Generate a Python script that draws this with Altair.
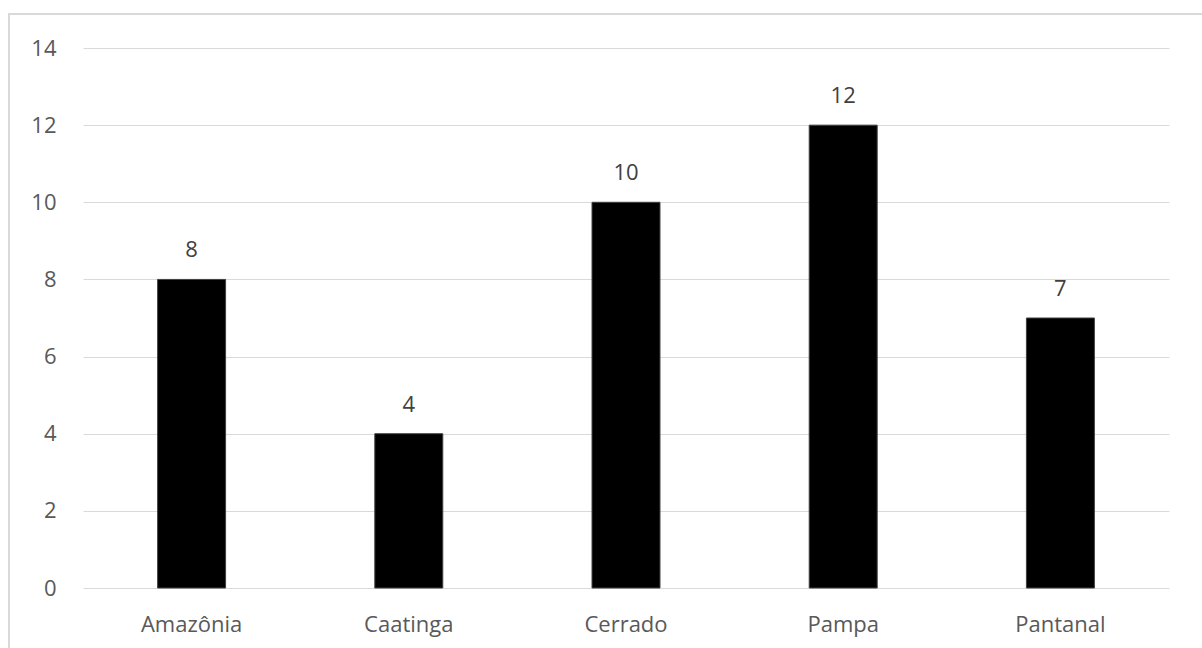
import altair as alt
import pandas as pd

biomas = ["Amazônia", "Caatinga", "Cerrado", "Pampa", "Pantanal"]
valores = [8, 4, 10, 12, 7]

df = pd.DataFrame({"bioma": biomas, "valor": valores})

FONT = "Open Sans"
GRAY = "#595959"

x_enc = alt.X(
    "bioma:N",
    sort=biomas,
    title=None,
    scale=alt.Scale(paddingInner=0.687, paddingOuter=0.3435),
    axis=alt.Axis(labelAngle=0, domain=False, ticks=False, labelPadding=26,
                  labelFontSize=22, labelColor=GRAY, labelFont=FONT, grid=False),
)
y_enc = alt.Y(
    "valor:Q",
    title=None,
    scale=alt.Scale(domain=[0, 14]),
    axis=alt.Axis(values=list(range(0, 15, 2)), domain=False, ticks=False,
                  labelPadding=27, labelFontSize=22, labelColor=GRAY, labelFont=FONT,
                  grid=True, gridColor="#d9d9d9", gridWidth=1),
)

bars = alt.Chart(df).mark_bar(color="#000000", stroke="#404040", strokeWidth=1).encode(
    x=x_enc, y=y_enc
)

labels = alt.Chart(df).mark_text(
    baseline="alphabetic", dy=-22, fontSize=22, color="#404040", font=FONT
).encode(x=alt.X("bioma:N", sort=biomas), y="valor:Q", text="valor:Q")

# thin frame around the whole chart area
frame = alt.Chart(df).mark_rect(fill=None, stroke="#d9d9d9", strokeWidth=2).encode(
    x=alt.value(-74), x2=alt.value(1130), y=alt.value(-34), y2=alt.value(610)
)

chart = alt.layer(frame, bars, labels).properties(
    width=1086,
    height=540,
    autosize=alt.AutoSizeParams(type="none"),
    padding={"left": 83, "top": 48, "right": 33, "bottom": 60},
    background="white",
).configure_view(stroke=None)

chart.save("out.html", embed_options={"renderer": "svg", "actions": False})
